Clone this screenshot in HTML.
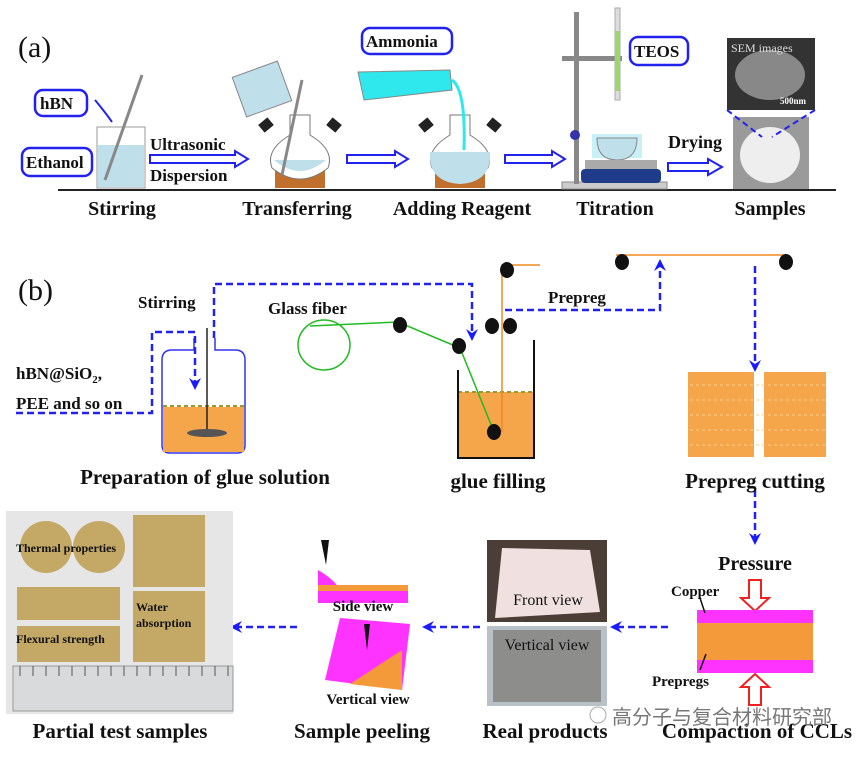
<!DOCTYPE html>
<html><head><meta charset="utf-8"><style>
html,body{margin:0;padding:0;background:#fff}
svg{display:block}
text{font-family:"Liberation Serif",serif;font-weight:bold;fill:#111}
</style></head><body>
<svg width="868" height="759" viewBox="0 0 868 759" xmlns="http://www.w3.org/2000/svg">
<defs>
<marker id="ab" markerUnits="userSpaceOnUse" markerWidth="12" markerHeight="12" refX="6" refY="6" orient="auto"><path d="M0,0 L12,6 L0,12 L4,6 Z" fill="#1a1aff"/></marker>
</defs>
<!-- (a) -->
<text x="18" y="57" font-size="30" style="font-weight:normal">(a)</text>
<line x1="58" y1="190" x2="836" y2="190" stroke="#222" stroke-width="2"/>
<g font-size="20" text-anchor="middle">
<text x="122" y="215">Stirring</text><text x="297" y="215">Transferring</text><text x="462" y="215">Adding Reagent</text><text x="615" y="215">Titration</text><text x="770" y="215">Samples</text>
</g>
<g fill="#fff" stroke="#2222ee" stroke-width="2.5">
<rect x="35" y="90" width="52" height="26" rx="8"/><rect x="22" y="148" width="70" height="28" rx="8"/>
<rect x="362" y="28" width="90" height="26" rx="8"/><rect x="630" y="37" width="58" height="28" rx="8"/>
</g>
<g font-size="17"><text x="40" y="109">hBN</text><text x="26" y="168">Ethanol</text><text x="366" y="47">Ammonia</text><text x="634" y="57">TEOS</text></g>
<rect x="97" y="127" width="48" height="61" fill="#fff" stroke="#999"/>
<rect x="98" y="145" width="46" height="42" fill="#bfe0ea"/>
<line x1="105" y1="180" x2="142" y2="75" stroke="#888" stroke-width="3"/>
<path d="M95 100 Q105 112 112 122" stroke="#2222ee" stroke-width="2" fill="none"/>
<text x="150" y="150" font-size="17">Ultrasonic</text><text x="150" y="181" font-size="17">Dispersion</text>
<g fill="#fff" stroke="#2222ee" stroke-width="2">
<path d="M150 155 H235 V151 L248 159 L235 167 V163 H150 Z"/>
<path d="M347 155 H395 V151 L408 159 L395 167 V163 H347 Z"/>
<path d="M505 155 H552 V151 L565 159 L552 167 V163 H505 Z"/>
<path d="M668 163 H708 V159 L722 167 L708 175 V171 H668 Z"/>
</g>
<rect x="275" y="168" width="50" height="20" fill="#c0702c"/>
<path d="M290 115 V135 Q265 150 272 168 Q300 190 328 168 Q335 150 310 135 V115 Z" fill="#fff" stroke="#777"/>
<path d="M274 160 Q300 182 326 160 Z" fill="#bfe0ea"/>
<rect x="260" y="120" width="12" height="10" fill="#222" transform="rotate(-40 266 125)"/><rect x="328" y="120" width="12" height="10" fill="#222" transform="rotate(40 334 125)"/>
<rect x="238" y="68" width="48" height="42" fill="#bfe0ea" stroke="#888" transform="rotate(-20 262 89)"/>
<line x1="282" y1="175" x2="302" y2="80" stroke="#888" stroke-width="3"/>
<rect x="435" y="168" width="50" height="20" fill="#c0702c"/>
<path d="M450 115 V135 Q425 150 432 168 Q460 190 488 168 Q495 150 470 135 V115 Z" fill="#fff" stroke="#777"/>
<path d="M430 152 H490 Q492 182 460 184 Q428 182 430 152 Z" fill="#bfe0ea"/>
<rect x="420" y="120" width="12" height="10" fill="#222" transform="rotate(-40 426 125)"/><rect x="488" y="120" width="12" height="10" fill="#222" transform="rotate(40 494 125)"/>
<path d="M358 72 L450 70 L452 90 L364 100 Z" fill="#2ee8ee" stroke="#888"/>
<path d="M452 80 Q466 90 464 150" stroke="#2ee8ee" stroke-width="3" fill="none"/>
<rect x="562" y="182" width="105" height="7" fill="#ccc" stroke="#888"/>
<rect x="574" y="12" width="5" height="172" fill="#888"/>
<rect x="562" y="56" width="60" height="5" fill="#888"/>
<rect x="615" y="8" width="5" height="92" fill="#ddd" stroke="#aaa"/>
<rect x="615" y="31" width="5" height="60" fill="#9ed66a"/>
<circle cx="575" cy="135" r="5" fill="#3333aa"/>
<rect x="592" y="134" width="50" height="24" fill="#c9f0f7"/>
<path d="M597 138 Q597 160 617 160 Q637 160 637 138 Z" fill="#bfe0ea" stroke="#888"/>
<rect x="585" y="160" width="72" height="9" fill="#aaa"/>
<rect x="581" y="169" width="80" height="14" rx="4" fill="#1f3c8a"/>
<text x="668" y="148" font-size="18">Drying</text>
<rect x="727" y="38" width="88" height="72" fill="#333"/>
<ellipse cx="770" cy="75" rx="35" ry="25" fill="#888"/>
<text x="731" y="52" font-size="12" style="font-weight:normal;fill:#ddd">SEM images</text>
<text x="780" y="104" font-size="9" style="fill:#fff">500nm</text>
<rect x="733" y="117" width="76" height="72" fill="#9a9a9a"/>
<ellipse cx="770" cy="155" rx="30" ry="28" fill="#eee"/>
<path d="M727 110 L762 137 M815 110 L772 137" stroke="#2222ee" stroke-width="2" stroke-dasharray="6,4"/>
<!-- (b) -->
<text x="18" y="300" font-size="30" style="font-weight:normal">(b)</text>
<text x="138" y="308" font-size="17">Stirring</text>
<text x="268" y="314" font-size="17">Glass fiber</text>
<text x="548" y="303" font-size="17">Prepreg</text>
<!-- glue jar -->
<path d="M194 338 V350 H172 Q162 350 162 360 V445 Q162 453 170 453 H237 Q245 453 245 445 V360 Q245 350 235 350 H215 V338" fill="none" stroke="#3333ee" stroke-width="1.5"/>
<rect x="163" y="407" width="81" height="45" fill="#f5a54a"/>
<line x1="163" y1="406" x2="244" y2="406" stroke="#999933" stroke-width="2" stroke-dasharray="4,3"/>
<line x1="207" y1="328" x2="207" y2="432" stroke="#222" stroke-width="1.5"/>
<ellipse cx="207" cy="433" rx="20" ry="4" fill="#555"/>
<g stroke="#2222ee" stroke-width="2.5" fill="none" stroke-dasharray="7,4">
<path d="M214 338 V284 H472 V335" marker-end="url(#ab)"/>
<path d="M16 413 H152 V332 H195 V384" marker-end="url(#ab)"/>
<path d="M505 310 H660 V265" marker-end="url(#ab)"/>
<path d="M755 266 V366" marker-end="url(#ab)"/>
<path d="M755 490 V539" marker-end="url(#ab)"/>
<path d="M668 627 H616" marker-end="url(#ab)"/>
<path d="M480 627 H428" marker-end="url(#ab)"/>
<path d="M297 627 H236" marker-end="url(#ab)"/>
</g>
<text x="16" y="379" font-size="17">hBN@SiO<tspan font-size="11" dy="4">2</tspan><tspan dy="-4">,</tspan></text>
<text x="16" y="409" font-size="17">PEE and so on</text>
<text x="205" y="484" font-size="21" text-anchor="middle">Preparation of glue solution</text>
<!-- glue filling -->
<rect x="458" y="392" width="75" height="65" fill="#f5a54a"/>
<line x1="458" y1="392" x2="533" y2="392" stroke="#999933" stroke-width="2" stroke-dasharray="4,3"/>
<path d="M458 370 V458 H534 V340" fill="none" stroke="#111" stroke-width="2"/>
<ellipse cx="324" cy="345" rx="26" ry="25" fill="none" stroke="#22bb22" stroke-width="1.5"/>
<path d="M310 326 L398 322 L460 348 L494 432" fill="none" stroke="#22bb22" stroke-width="1.5"/>
<path d="M502 432 V265 H540 M616 255 H786" fill="none" stroke="#f08a20" stroke-width="1.5"/>
<g fill="#111"><ellipse cx="400" cy="325" rx="7" ry="8"/><ellipse cx="459" cy="346" rx="7" ry="8"/><ellipse cx="492" cy="326" rx="7" ry="8"/><ellipse cx="510" cy="326" rx="7" ry="8"/><ellipse cx="507" cy="270" rx="7" ry="8"/><ellipse cx="494" cy="432" rx="7" ry="8"/><ellipse cx="622" cy="262" rx="7" ry="8"/><ellipse cx="786" cy="262" rx="7" ry="8"/></g>
<text x="498" y="488" font-size="21" text-anchor="middle">glue filling</text>
<rect x="688" y="372" width="66" height="85" fill="#f5a54a"/><rect x="764" y="372" width="62" height="85" fill="#f5a54a"/>
<g stroke="#fcd08a" stroke-width="1" stroke-dasharray="3,3"><line x1="690" y1="385" x2="826" y2="385"/><line x1="690" y1="400" x2="826" y2="400"/><line x1="690" y1="415" x2="826" y2="415"/><line x1="690" y1="430" x2="826" y2="430"/><line x1="690" y1="445" x2="826" y2="445"/></g>
<text x="755" y="488" font-size="21" text-anchor="middle">Prepreg cutting</text>
<!-- CCL -->
<text x="755" y="570" font-size="20" text-anchor="middle">Pressure</text>
<g fill="#fff" stroke="#ee2222" stroke-width="2"><path d="M749 580 H761 V598 H769 L755 611 L741 598 H749 Z"/><path d="M749 705 H761 V687 H769 L755 674 L741 687 H749 Z"/></g>
<rect x="697" y="610" width="116" height="13" fill="#ff33ff"/><rect x="697" y="623" width="116" height="37" fill="#f59a3a"/><rect x="697" y="660" width="116" height="13" fill="#ff33ff"/>
<text x="671" y="596" font-size="15">Copper</text><text x="652" y="686" font-size="15">Prepregs</text>
<path d="M700 598 L705 613 M700 670 L706 654" stroke="#111" stroke-width="1.5"/>
<text x="757" y="738" font-size="21" text-anchor="middle">Compaction of CCLs</text>
<!-- real products -->
<rect x="487" y="540" width="120" height="82" fill="#4a3e36"/>
<path d="M502 548 L590 550 L600 612 L495 618 Z" fill="#f0e0e0"/>
<text x="548" y="605" font-size="16" text-anchor="middle" style="font-weight:normal">Front view</text>
<rect x="487" y="626" width="120" height="80" fill="#b8c0c8"/><rect x="493" y="630" width="108" height="72" fill="#8d8d8c"/>
<text x="547" y="650" font-size="16" text-anchor="middle" style="font-weight:normal">Vertical view</text>
<text x="545" y="738" font-size="21" text-anchor="middle">Real products</text>
<circle cx="598" cy="715" r="8" fill="none" stroke="#aaa"/>
<text x="612" y="724" font-size="20" style="font-family:'Noto Sans CJK SC',sans-serif;font-weight:normal;fill:#777">高分子与复合材料研究部</text>
<!-- sample peeling -->
<path d="M318 570 Q335 580 340 590 H408 V603 H318 Z" fill="#ff33ff"/><rect x="318" y="585" width="90" height="6" fill="#f59a3a"/>
<path d="M321 540 L329 540 L326 565 Z" fill="#111"/>
<text x="363" y="611" font-size="15" text-anchor="middle">Side view</text>
<path d="M340 618 L410 624 L402 690 L325 680 Z" fill="#ff33ff"/><path d="M402 650 L402 690 L350 684 Z" fill="#f59a3a"/>
<path d="M364 624 L370 624 L367 650 Z" fill="#111"/>
<text x="368" y="704" font-size="15" text-anchor="middle">Vertical view</text>
<text x="362" y="738" font-size="21" text-anchor="middle">Sample peeling</text>
<!-- partial test samples -->
<rect x="6" y="511" width="227" height="203" fill="#e6e6e6"/>
<g fill="#c4a866"><circle cx="46" cy="547" r="26"/><circle cx="99" cy="547" r="26"/><rect x="133" y="515" width="72" height="72"/><rect x="17" y="587" width="103" height="33"/><rect x="17" y="626" width="103" height="36"/><rect x="133" y="591" width="72" height="71"/></g>
<rect x="13" y="666" width="220" height="45" fill="#d8dadc" stroke="#999"/>
<g stroke="#555" stroke-width="1"><path d="M20 666 V676 M33 666 V676 M46 666 V676 M59 666 V676 M72 666 V676 M85 666 V676 M98 666 V676 M111 666 V676 M124 666 V676 M137 666 V676 M150 666 V676 M163 666 V676 M176 666 V676 M189 666 V676 M202 666 V676 M215 666 V676 M228 666 V676"/></g>
<g font-size="12"><text x="16" y="552">Thermal properties</text><text x="16" y="643">Flexural strength</text><text x="136" y="611">Water</text><text x="136" y="627">absorption</text></g>
<text x="120" y="738" font-size="21" text-anchor="middle">Partial test samples</text>
</svg>
</body></html>
